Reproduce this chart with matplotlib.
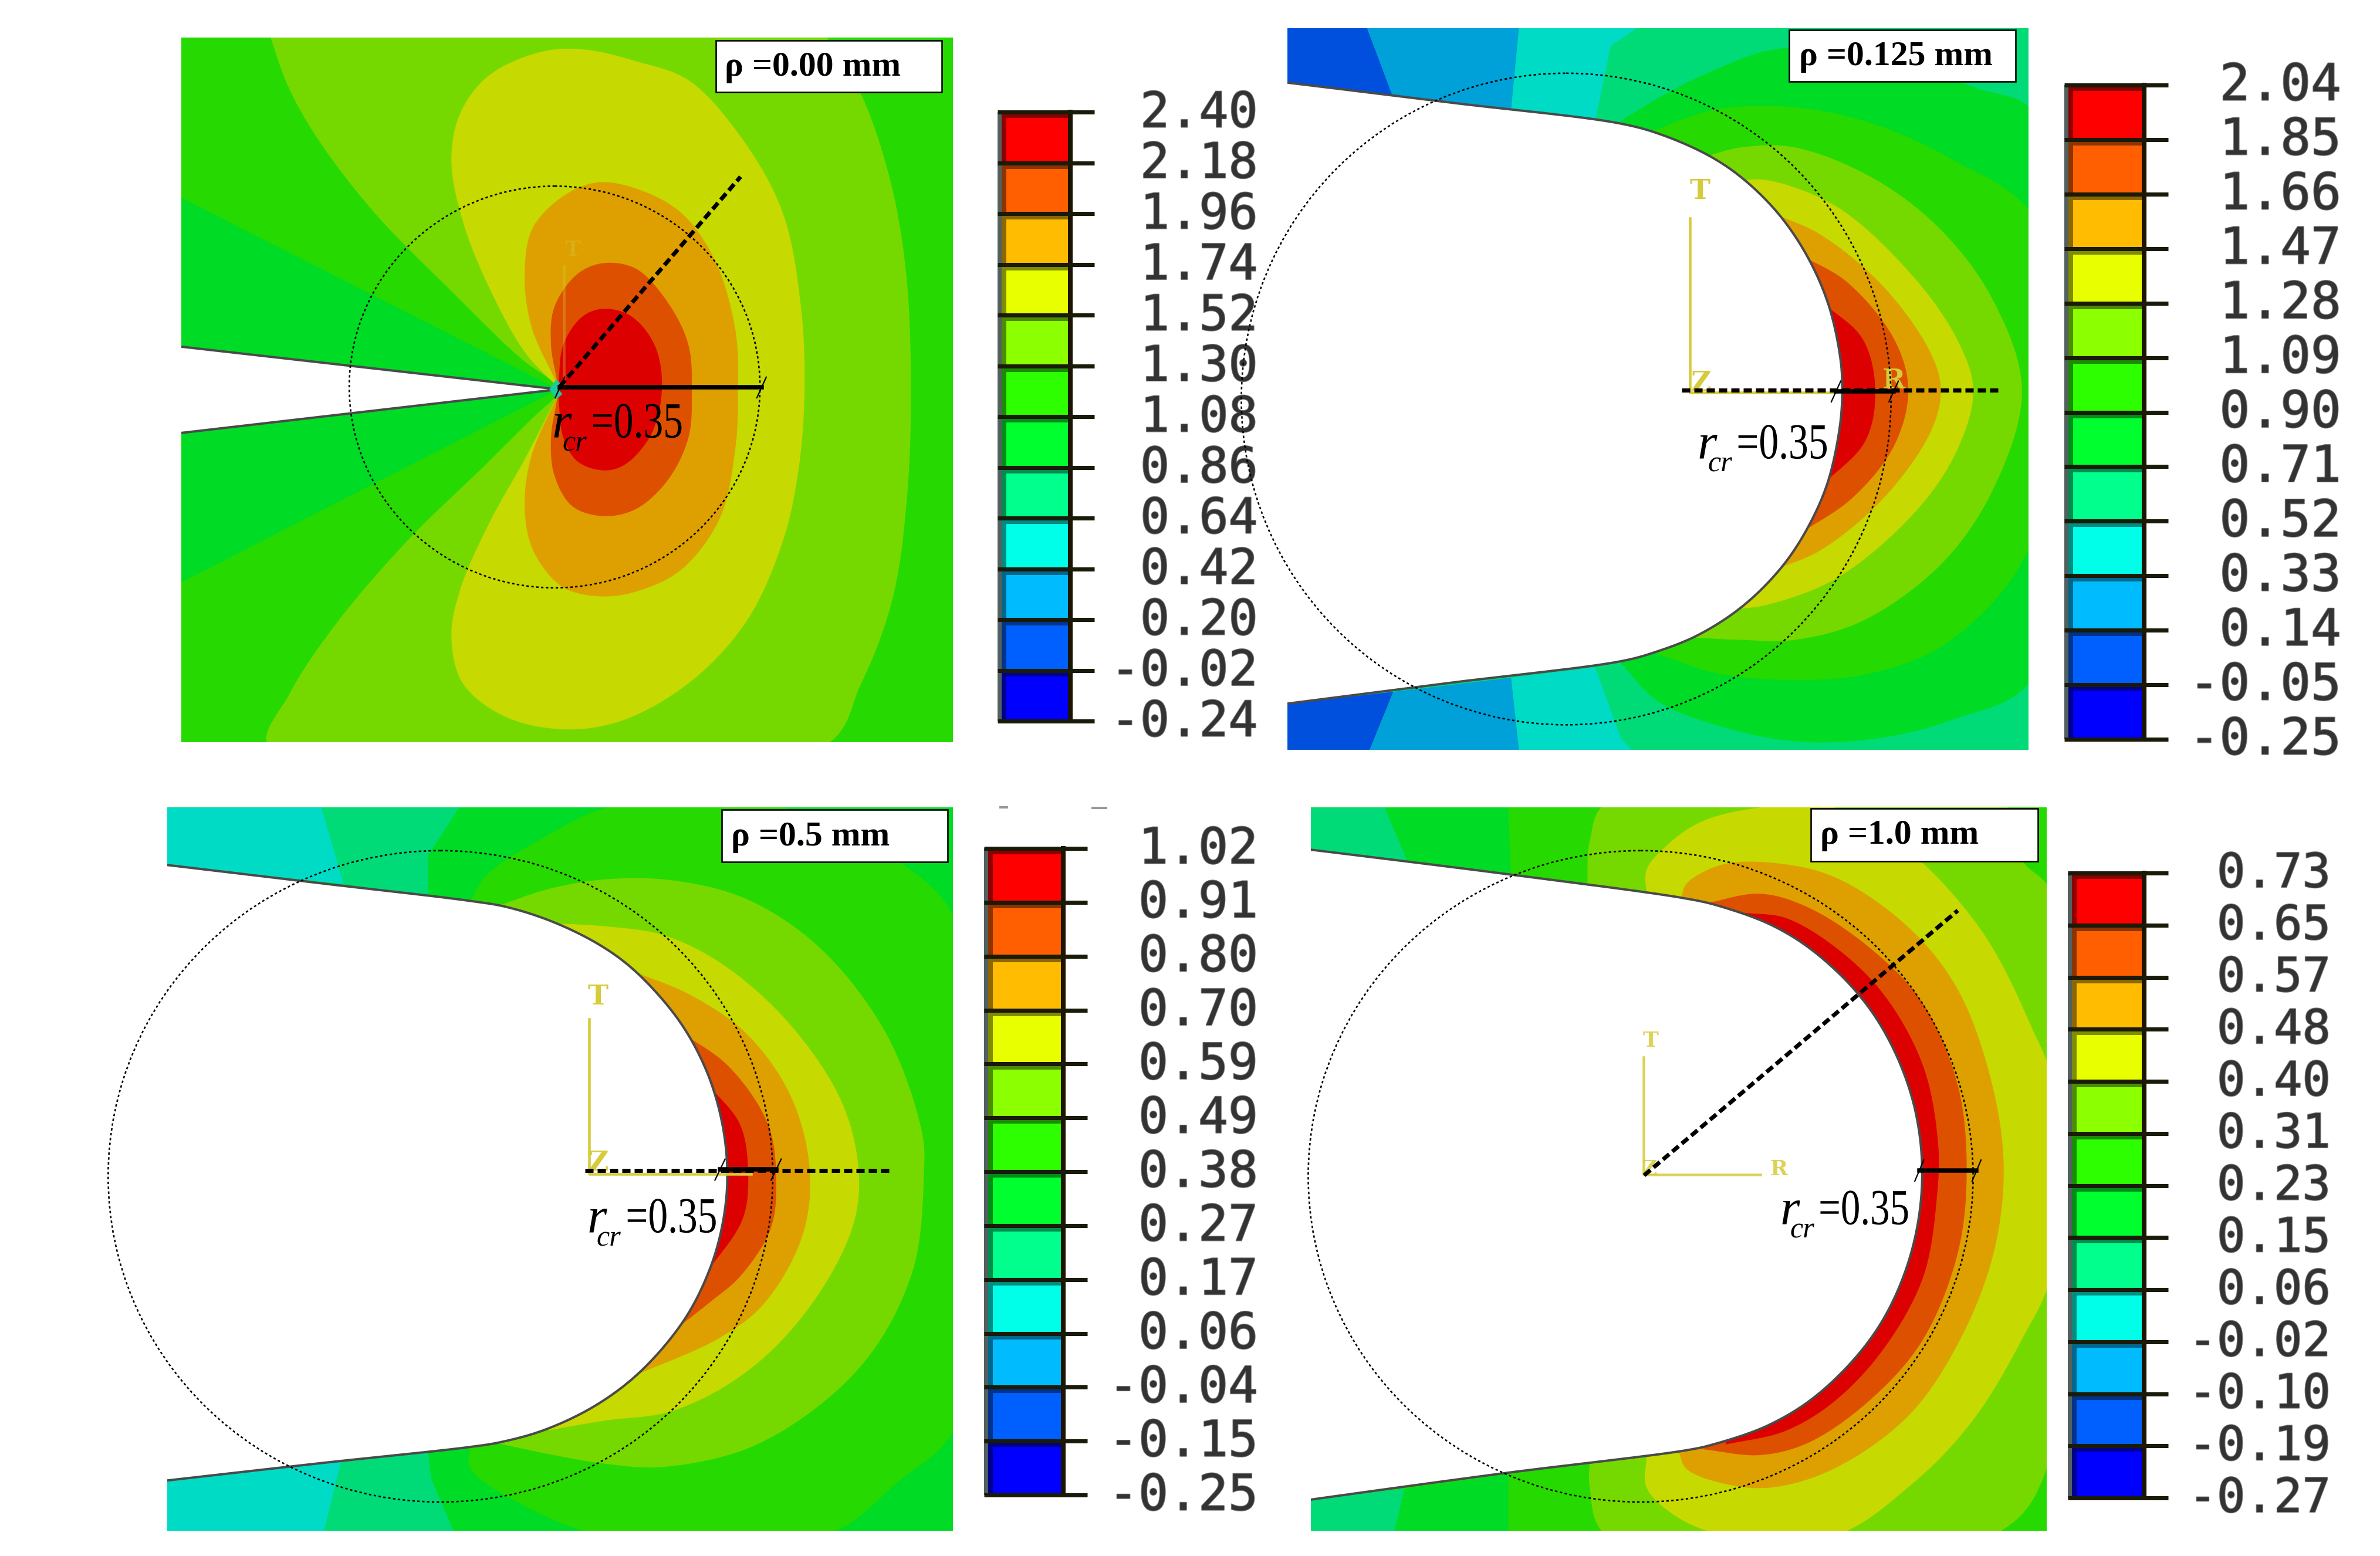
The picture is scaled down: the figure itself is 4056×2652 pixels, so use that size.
import numpy as np
import matplotlib
matplotlib.use('Agg')
import matplotlib.pyplot as plt
import matplotlib.patheffects as pe
from matplotlib.patches import Ellipse, Rectangle
from matplotlib.patheffects import AbstractPathEffect
from matplotlib.transforms import Affine2D

# contour colours (dark shade used in the plots, bright shade in the legend bars)
RED, DORANGE, ORANGE = '#DD0000', '#DD5000', '#DDA000'
YELLOW, LGREEN, DGREEN = '#C6D900', '#75D900', '#26D900'
BGREEN, MINT, TEAL = '#00DB25', '#00DB78', '#00DBC6'
SKY, BLUE = '#00A0D8', '#0050DD'
BAR_COLORS = ['#FF0000', '#FF5F00', '#FFBC00', '#E8FF00', '#8CFF00', '#2EFF00',
              '#00FF2E', '#00FF8C', '#00FFE8', '#00BCFF', '#005FFF', '#0000FF']

# legend values
BAR1_LABELS = ['2.40', '2.18', '1.96', '1.74', '1.52', '1.30', '1.08', '0.86', '0.64', '0.42', '0.20', '-0.02', '-0.24']
BAR2_LABELS = ['2.04', '1.85', '1.66', '1.47', '1.28', '1.09', '0.90', '0.71', '0.52', '0.33', '0.14', '-0.05', '-0.25']
BAR3_LABELS = ['1.02', '0.91', '0.80', '0.70', '0.59', '0.49', '0.38', '0.27', '0.17', '0.06', '-0.04', '-0.15', '-0.25']
BAR4_LABELS = ['0.73', '0.65', '0.57', '0.48', '0.40', '0.31', '0.23', '0.15', '0.06', '-0.02', '-0.10', '-0.19', '-0.27']

P1_NOTCH = [(20, 684), (752, 776), (20, 870)]
P1_WEDGE_UP = [(33, 370), (752, 776), (33, 686)]
P1_WEDGE_LO = [(33, 1185), (752, 776), (33, 868)]
P1_TIP = [(735, 776), (748, 755), (760, 768), (752, 776), (760, 786), (748, 797)]
P1_LGREEN = [(200, 20), (235, 130), (290, 240), (400, 400), (550, 570), (680, 710), (750, 770), (750, 785), (700, 840),
             (600, 950), (470, 1090), (330, 1270), (240, 1420), (200, 1535), (1255, 1535), (1330, 1400), (1390, 1220),
             (1418, 1000), (1425, 750), (1415, 520), (1385, 330), (1330, 150), (1260, 20)]
P1_YELLOW = [(750, 770), (690, 700), (620, 560), (570, 420), (548, 290), (565, 190), (620, 110), (720, 60), (800, 55),
             (900, 80), (1000, 120), (1100, 240), (1180, 400), (1215, 600), (1222, 780), (1210, 950), (1180, 1100),
             (1110, 1270), (1000, 1400), (870, 1480), (760, 1497), (650, 1470), (570, 1400), (548, 1300), (565, 1200),
             (620, 1060), (690, 920), (750, 790)]
P1_ORANGE = [(750, 765), (700, 640), (688, 520), (705, 430), (770, 360), (830, 337), (900, 350), (985, 400), (1050, 500),
             (1090, 650), (1095, 780), (1090, 900), (1060, 1050), (985, 1160), (900, 1205), (830, 1215), (760, 1195),
             (705, 1120), (688, 1030), (700, 920), (750, 790)]
P1_DORANGE = [(750, 760), (738, 680), (745, 600), (790, 530), (840, 508), (900, 520), (960, 590), (1000, 680), (1007, 780),
              (1000, 880), (960, 970), (900, 1030), (840, 1045), (780, 1025), (745, 960), (738, 880), (750, 795)]
P1_RED = [(752, 770), (762, 680), (800, 620), (840, 605), (890, 620), (935, 680), (950, 770), (930, 870), (880, 935),
          (840, 948), (790, 930), (762, 880), (752, 790)]

# panel 2, rho = 0.125
P2_NOTCH = [(20, 130), (83, 138), (400, 181), (720, 225), (801, 250), (891, 295), (956, 345), (1023, 420), (1077, 510),
            (1116, 610), (1138, 720), (1142, 790), (1137, 870), (1113, 990), (1072, 1090), (1023, 1170), (950, 1250),
            (866, 1310), (787, 1345), (720, 1365), (400, 1410), (83, 1455), (20, 1463)]
P2_BLUE_UP = [(83, 22), (235, 22), (285, 170), (83, 138)]
P2_SKY_UP = [(235, 22), (525, 22), (510, 195), (285, 170)]
P2_TEAL_UP = [(525, 22), (750, 22), (700, 60), (670, 220), (510, 195)]
P2_BLUE_LO = [(83, 1455), (285, 1430), (240, 1553), (83, 1553)]
P2_SKY_LO = [(285, 1430), (510, 1400), (525, 1553), (240, 1553)]
P2_TEAL_LO = [(510, 1400), (670, 1378), (720, 1530), (740, 1553), (525, 1553)]
P2_BGREEN = [(715, 222), (800, 165), (900, 110), (1000, 70), (1100, 65), (1250, 100), (1400, 150), (1510, 205), (1510, 1395),
             (1350, 1490), (1200, 1530), (1050, 1535), (900, 1500), (790, 1450), (720, 1370)]
P2_DGREEN = [(780, 240), (900, 195), (1050, 190), (1200, 225), (1350, 300), (1510, 430), (1510, 1095), (1350, 1320),
             (1200, 1390), (1050, 1405), (900, 1390), (790, 1350)]
P2_LGREEN = [(880, 295), (950, 275), (1050, 275), (1200, 340), (1330, 450), (1430, 600), (1485, 790), (1430, 1000),
             (1330, 1160), (1180, 1280), (1050, 1320), (950, 1320), (860, 1315)]
P2_YELLOW = [(945, 345), (1000, 345), (1130, 400), (1270, 540), (1360, 680), (1392, 790), (1360, 920), (1280, 1050),
             (1130, 1190), (1000, 1245), (940, 1255)]
P2_ORANGE = [(1010, 415), (1100, 460), (1220, 570), (1310, 710), (1330, 790), (1310, 880), (1220, 1020), (1100, 1130),
             (1010, 1172)]
P2_DORANGE = [(1065, 505), (1150, 560), (1240, 680), (1268, 790), (1240, 910), (1160, 1020), (1060, 1095)]
P2_RED = [(1105, 605), (1180, 680), (1205, 790), (1185, 900), (1100, 995)]

# panel 3, rho = 0.5
P3_NOTCH = [(60, 132), (120, 140), (400, 179), (660, 215), (726, 228), (810, 260), (895, 310), (957, 365), (1032, 465),
            (1081, 570), (1109, 680), (1118, 785), (1111, 880), (1088, 980), (1041, 1090), (961, 1200), (881, 1270),
            (791, 1320), (714, 1345), (660, 1355), (400, 1388), (120, 1425), (60, 1433)]
P3_TEAL_UP = [(120, 20), (395, 20), (435, 180), (120, 140)]
P3_MINT_UP = [(395, 20), (640, 20), (585, 120), (585, 205), (435, 180)]
P3_TEAL_LO = [(120, 1425), (430, 1385), (400, 1530), (120, 1530)]
P3_MINT_LO = [(430, 1385), (585, 1365), (590, 1420), (630, 1530), (400, 1530)]
P3_DGREEN = [(660, 215), (690, 160), (780, 90), (920, 15), (1200, 15), (1420, 130), (1530, 270), (1530, 1300), (1420, 1430),
             (1290, 1540), (900, 1540), (760, 1480), (660, 1400), (660, 1355)]
P3_LGREEN = [(710, 225), (800, 190), (900, 170), (1020, 172), (1150, 210), (1280, 310), (1400, 490), (1465, 700), (1468, 790),
             (1450, 980), (1380, 1150), (1280, 1270), (1150, 1360), (1000, 1397), (900, 1390), (800, 1370), (700, 1345)]
P3_YELLOW = [(815, 262), (900, 268), (1000, 285), (1100, 340), (1220, 460), (1320, 630), (1352, 780), (1340, 900),
             (1260, 1070), (1150, 1200), (1020, 1280), (900, 1300), (800, 1320)]
P3_ORANGE = [(945, 360), (1050, 410), (1150, 490), (1230, 620), (1265, 780), (1250, 920), (1180, 1060), (1100, 1130), (955, 1205)]
P3_DORANGE = [(1030, 485), (1120, 560), (1190, 680), (1205, 790), (1195, 900), (1140, 1000), (1090, 1050), (1025, 1110)]
P3_RED = [(1085, 600), (1140, 680), (1155, 780), (1145, 880), (1075, 1000)]

# panel 4, rho = 1.0
P4_NOTCH = [(0, 103), (40, 108), (445, 160), (800, 210), (865, 225), (972, 265), (1058, 320), (1149, 410), (1213, 510),
            (1261, 640), (1278, 780), (1263, 920), (1219, 1050), (1158, 1150), (1061, 1250), (966, 1310), (854, 1350),
            (800, 1362), (430, 1410), (40, 1465), (0, 1471)]
P4_MINT_UP = [(40, 20), (190, 20), (235, 130), (40, 108)]
P4_MINT_LO = [(40, 1465), (230, 1442), (210, 1530), (40, 1530)]
P4_BGREEN_UP = [(190, 20), (440, 20), (445, 160), (235, 130)]
P4_BGREEN_LO = [(230, 1442), (440, 1412), (440, 1530), (210, 1530)]
P4_LGREEN = [(600, 190), (605, 90), (640, 10), (1440, 10), (1480, 130), (1540, 200), (1540, 1370), (1420, 1540), (640, 1540),
             (605, 1440), (605, 1380)]
P4_YELLOW = [(720, 205), (720, 150), (760, 100), (830, 50), (950, 20), (1100, 20), (1250, 110), (1400, 280), (1500, 480),
             (1540, 590), (1540, 990), (1480, 1130), (1380, 1300), (1260, 1430), (1100, 1540), (880, 1540), (780, 1500),
             (720, 1440), (720, 1375)]
P4_ORANGE = [(790, 212), (800, 180), (870, 140), (970, 135), (1100, 165), (1250, 270), (1350, 400), (1420, 600), (1443, 780),
             (1420, 960), (1350, 1140), (1250, 1290), (1100, 1400), (970, 1440), (870, 1430), (800, 1400), (785, 1365)]
P4_DORANGE = [(840, 220), (950, 200), (1050, 230), (1180, 320), (1280, 430), (1350, 600), (1368, 780), (1350, 950),
              (1280, 1130), (1180, 1250), (1050, 1345), (950, 1372), (835, 1360)]
P4_RED = [(920, 240), (1000, 250), (1100, 310), (1200, 410), (1280, 560), (1310, 720), (1308, 830), (1280, 1000), (1200, 1150),
          (1100, 1260), (1000, 1322), (880, 1350)]

SERIF = 'Liberation Serif'
TRIAD = '#D6CB3A'
PX = 0.72  # linewidth points per pixel at dpi 100

fig = plt.figure(figsize=(40.56, 26.52), dpi=100)
fig.patch.set_facecolor('white')


class Squeeze(AbstractPathEffect):
    # the =0.35 in the original is set very tight, no tracking option in matplotlib
    def __init__(self, x0, factor):
        super().__init__()
        self.x0, self.factor = x0, factor

    def draw_path(self, renderer, gc, tpath, affine, rgbFace=None):
        squeeze = Affine2D().translate(-self.x0, 0).scale(self.factor, 1).translate(self.x0, 0)
        renderer.draw_path(gc, tpath, affine + squeeze, rgbFace)


def smooth(pts, n=14):
    # centripetal catmull-rom through the read outline points
    p = np.array(pts, dtype=float)
    p = np.vstack([2 * p[0] - p[1], p, 2 * p[-1] - p[-2]])
    out = [p[1][None, :]]
    for i in range(1, len(p) - 2):
        p0, p1, p2, p3 = p[i - 1], p[i], p[i + 1], p[i + 2]
        t0 = 0.0
        t1 = t0 + np.linalg.norm(p1 - p0) ** 0.5
        t2 = t1 + np.linalg.norm(p2 - p1) ** 0.5
        t3 = t2 + np.linalg.norm(p3 - p2) ** 0.5
        t = np.linspace(t1, t2, n + 1)[1:, None]
        a1 = ((t1 - t) * p0 + (t - t0) * p1) / (t1 - t0)
        a2 = ((t2 - t) * p1 + (t - t1) * p2) / (t2 - t1)
        a3 = ((t3 - t) * p2 + (t - t2) * p3) / (t3 - t2)
        b1 = ((t2 - t) * a1 + (t - t0) * a2) / (t2 - t0)
        b2 = ((t3 - t) * a2 + (t - t1) * a3) / (t3 - t1)
        out.append(((t2 - t) * b1 + (t - t1) * b2) / (t2 - t1))
    return np.vstack(out)


def panel_axes(crop):
    x0, y0, w, h = crop
    ax = fig.add_axes([x0 / 4056, 1 - (y0 + h) / 2652, w / 4056, h / 2652])
    ax.set_xlim(0, 1568)
    ax.set_ylim(1568, 0)
    ax.axis('off')
    ax.patch.set_alpha(0)
    return ax


def draw_panel(crop, rect, base, flat, bands, notch, round_notch, circle, solid, dashed, tri, rlabel, box, boxtext, boxtx):
    ax = panel_axes(crop)
    xa, ya, xb, yb = rect
    clip = Rectangle((xa, ya), xb - xa, yb - ya, transform=ax.transData)
    ax.add_patch(Rectangle((xa, ya), xb - xa, yb - ya, fc=base, ec='none', zorder=1))
    for pts, col in flat:
        p = np.array(pts)
        ax.fill(p[:, 0], p[:, 1], color=col, lw=0, zorder=2)[0].set_clip_path(clip)
    for i, (pts, col) in enumerate(bands):
        p = smooth(pts)
        ax.fill(p[:, 0], p[:, 1], color=col, lw=0, zorder=3 + i * 0.01)[0].set_clip_path(clip)

    # white notch with the grey edge
    n = smooth(notch) if round_notch else np.array(notch, dtype=float)
    ax.fill(n[:, 0], n[:, 1], color='white', lw=0, zorder=4)[0].set_clip_path(clip)
    edge, = ax.plot(n[:, 0], n[:, 1], color='#4a4a4a', lw=4 * PX, zorder=4.1)
    edge.set_clip_path(clip)

    # triad from the FE viewer
    v, h, labels, alpha, tsize = tri
    ax.plot([v[0], v[0], h], [v[1], v[2], v[2]], color=TRIAD, lw=4.5 * PX, alpha=alpha, zorder=4.2)
    for s, lx, ly in labels:
        ax.text(lx, ly, s, color=TRIAD, family='DejaVu Serif', fontsize=tsize, weight='bold',
                ha='center', va='center', alpha=alpha, zorder=4.2)

    ax.add_patch(Ellipse(circle[:2], 2 * circle[2], 2 * circle[3], fc='none', ec='black', lw=2.6 * PX,
                         ls=(0, (1.6, 1.6)), zorder=5, clip_on=False))
    ax.plot([dashed[0], dashed[2]], [dashed[1], dashed[3]], color='black', lw=7 * PX,
            ls=(0, (2, 1)), zorder=5)
    ax.plot([solid[0], solid[1]], [solid[2], solid[2]], color='black', lw=7.5 * PX, zorder=5.1)
    for sx in solid[:2]:
        ax.plot([sx - 9, sx + 9], [solid[2] + 22, solid[2] - 22], color='black', lw=2.2 * PX, zorder=5.1)

    # r_cr =0.35
    rx, cx, ex, ey, ew = rlabel
    ax.text(rx, ey, 'r', family=SERIF, style='italic', fontsize=62, va='baseline', zorder=6)
    ax.text(cx, ey + 28, 'cr', family=SERIF, style='italic', fontsize=36, va='baseline', zorder=6)
    t = ax.text(ex, ey, '=0.35', family=SERIF, fontsize=62, va='baseline', zorder=6)
    width = t.get_window_extent(fig.canvas.get_renderer()).width
    target = ew * crop[2] / 1568
    t.set_path_effects([Squeeze(ax.transData.transform((ex, ey))[0], target / width)])

    # rho label box
    ax.add_patch(Rectangle((box[0], box[1]), box[2] - box[0], box[3] - box[1], fc='white', ec='black',
                           lw=2.6 * PX, zorder=7))
    ax.text(boxtx, (box[1] + box[3]) / 2 + 2, boxtext, family=SERIF, weight='bold', fontsize=43,
            va='center', zorder=8)
    return ax


ax1 = draw_panel((280, 40, 1400, 1260), (33, 30, 1505, 1525), DGREEN,
                 [(P1_WEDGE_UP, BGREEN), (P1_WEDGE_LO, BGREEN)],
                 [(P1_LGREEN, LGREEN), (P1_YELLOW, YELLOW), (P1_ORANGE, ORANGE), (P1_DORANGE, DORANGE), (P1_RED, RED)],
                 P1_NOTCH, False, (745, 771, 392, 426), (755, 1140, 772), (755, 770, 1100, 325),
                 ((763, 515, 770), 763, [('T', 780, 480)], 0.35, 26),
                 (740, 760, 815, 878, 175), (1053, 36, 1484, 146), '\u03c1 =0.00 mm', 1070)
ax1.fill(*zip(*P1_TIP), color='#20C8A0', lw=0, zorder=4.3)

draw_panel((2120, 30, 1400, 1260), (83, 22, 1497, 1553), MINT,
           [(P2_BLUE_UP, BLUE), (P2_SKY_UP, SKY), (P2_TEAL_UP, TEAL), (P2_BLUE_LO, BLUE), (P2_SKY_LO, SKY), (P2_TEAL_LO, TEAL)],
           [(P2_BGREEN, BGREEN), (P2_DGREEN, DGREEN), (P2_LGREEN, LGREEN), (P2_YELLOW, YELLOW), (P2_ORANGE, ORANGE),
            (P2_DORANGE, DORANGE), (P2_RED, RED)],
           P2_NOTCH, True, (615, 809, 620, 691), (1130, 1240, 793), (835, 790, 1445, 790),
           ((851, 425, 795), 1130, [('T', 870, 368), ('Z', 872, 775), ('R', 1240, 770)], 1, 34),
           (865, 885, 940, 935, 175), (1041, 26, 1473, 136), '\u03c1 =0.125 mm', 1060)

draw_panel((170, 1360, 1500, 1280), (120, 20, 1520, 1530), BGREEN,
           [(P3_TEAL_UP, TEAL), (P3_MINT_UP, MINT), (P3_TEAL_LO, TEAL), (P3_MINT_LO, MINT)],
           [(P3_DGREEN, DGREEN), (P3_LGREEN, LGREEN), (P3_YELLOW, YELLOW), (P3_ORANGE, ORANGE), (P3_DORANGE, DORANGE), (P3_RED, RED)],
           P3_NOTCH, True, (607, 790, 592, 680), (1105, 1205, 776), (865, 778, 1410, 778),
           ((872, 462, 785), 1160, [('T', 888, 415), ('Z', 888, 762)], 1, 34),
           (868, 885, 937, 907, 163), (1108, 25, 1510, 134), '\u03c1 =0.5 mm', 1125)

draw_panel((2200, 1360, 1320, 1280), (40, 20, 1530, 1530), DGREEN,
           [(P4_MINT_UP, MINT), (P4_MINT_LO, MINT), (P4_BGREEN_UP, BGREEN), (P4_BGREEN_LO, BGREEN)],
           [(P4_LGREEN, LGREEN), (P4_YELLOW, YELLOW), (P4_ORANGE, ORANGE), (P4_DORANGE, DORANGE), (P4_RED, RED)],
           P4_NOTCH, True, (708, 790, 673, 680), (1272, 1388, 778), (715, 788, 1350, 235),
           ((714, 542, 787), 950, [('T', 728, 507), ('Z', 725, 775), ('R', 988, 775)], 0.85, 26),
           (990, 1010, 1068, 890, 184), (1053, 22, 1512, 132), '\u03c1 =1.0 mm', 1072)

# legend bars, drawn on a figure wide axes in image pixels
bar_ax = fig.add_axes([0, 0, 1, 1], zorder=-1)
bar_ax.set_xlim(0, 4056)
bar_ax.set_ylim(2652, 0)
bar_ax.axis('off')


def draw_bar(left, right, top, bottom, labels, text_right, fontsize):
    edges = np.linspace(top, bottom, len(BAR_COLORS) + 1)
    for i, col in enumerate(BAR_COLORS):
        bar_ax.add_patch(Rectangle((left, edges[i]), right - left, edges[i + 1] - edges[i], fc=col, ec='none'))
        dark = tuple(c * 0.55 for c in matplotlib.colors.to_rgb(col))
        bar_ax.add_patch(Rectangle((left + 7, edges[i]), 8, edges[i + 1] - edges[i], fc=dark, ec='none'))
        bar_ax.add_patch(Rectangle((left + 7, edges[i] + 3), right - left - 7, 7, fc=dark, ec='none'))
    bar_ax.add_patch(Rectangle((left, top), 7, bottom - top, fc='#52605f', ec='none'))
    bar_ax.plot([right + 4, right + 4], [top, bottom], color='#1c1400', lw=8 * PX)
    for y, s in zip(edges, labels):
        bar_ax.plot([left, right + 45], [y, y], color='#1a1a08', lw=7 * PX, solid_capstyle='butt')
        bar_ax.text(text_right, y + 2, s, family='DejaVu Sans Mono', fontsize=fontsize, color='#333333',
                    ha='right', va='center',
                    path_effects=[pe.withStroke(linewidth=1.6, foreground='#777777')])


draw_bar(1700, 1820, 191, 1229, BAR1_LABELS, 2144, 60)
draw_bar(3518, 3650, 145, 1260, BAR2_LABELS, 3990, 62)
draw_bar(1677, 1808, 1446, 2548, BAR3_LABELS, 2144, 61)
draw_bar(3524, 3650, 1488, 2553, BAR4_LABELS, 3972, 58)

# two stray specks above the third bar
bar_ax.plot([1705, 1716], [1376, 1376], color='#999999', lw=4 * PX)
bar_ax.plot([1862, 1885], [1377, 1377], color='#999999', lw=4 * PX)

fig.savefig('out.png', dpi=100, facecolor='white')
